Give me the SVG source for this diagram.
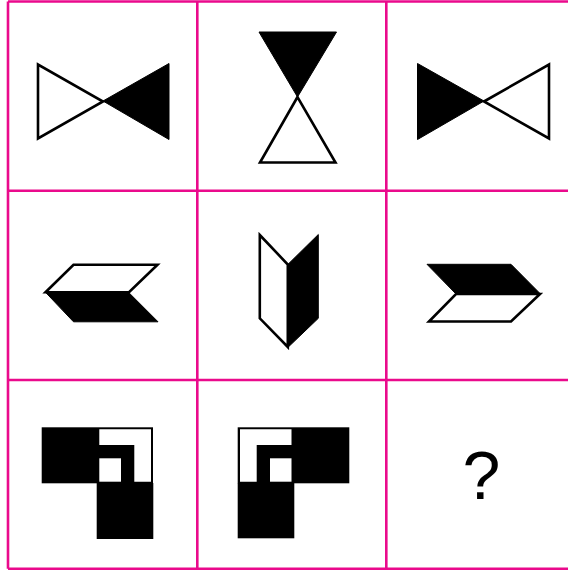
<svg xmlns="http://www.w3.org/2000/svg" width="568" height="572" viewBox="0 0 568 572">
<style>
.grid{stroke:#ea0a8c;stroke-width:2.6;fill:none}
.o{fill:#fff;stroke:#000;stroke-width:2.6;stroke-linejoin:miter}
.f{fill:#000;stroke:#000;stroke-width:1}
.b{fill:#000}
.w{fill:#fff}
.q{font-family:"Liberation Sans",Arial,sans-serif;font-size:68px;fill:#000}
</style>
<rect width="568" height="572" fill="#fff"/>
<g id="grid" class="grid">
<line x1="8" y1="1.5" x2="568" y2="1.5"/>
<line x1="8" y1="190.8" x2="568" y2="190.8"/>
<line x1="8" y1="380" x2="568" y2="380"/>
<line x1="8" y1="568.8" x2="568" y2="568.8"/>
<line x1="8" y1="1.5" x2="8" y2="568.8"/>
<line x1="197.3" y1="1.5" x2="197.3" y2="568.8"/>
<line x1="386.3" y1="1.5" x2="386.3" y2="568.8"/>
</g>
<g id="cell1">
<polygon class="o" points="38,64.5 38,138.5 103,101.5"/>
<polygon class="f" points="103,101 169,63.5 169,139.5"/>
</g>
<g id="cell2">
<polygon class="f" points="259,32 336.5,32 297.5,97"/>
<polygon class="o" points="297.5,97 260,162.5 335.5,162.5"/>
</g>
<g id="cell3">
<polygon class="f" points="417.5,63.5 417.5,139.5 484,101"/>
<polygon class="o" points="484,101.5 549,64.5 549,138.5"/>
</g>
<g id="cell4">
<polygon class="o" points="45.5,292.3 73.5,264.8 157.5,264.8 129,292.3"/>
<polygon class="f" points="45.5,292.3 128.5,292.3 158,321.8 73.5,321.8"/>
</g>
<g id="cell5">
<polygon class="o" points="259.8,235 287.8,264.5 287.8,347 259.8,318.3"/>
<polygon class="f" points="287.8,264.5 318.3,234.5 318.3,318.3 287.8,347.5"/>
</g>
<g id="cell6">
<polygon class="f" points="427,264.3 511,264.3 540.5,294 456,294"/>
<polygon class="o" points="456,294 540,294 511,321.5 429,321.5"/>
</g>
<g id="cell7">
<rect class="b" x="41.7" y="427.3" width="111.3" height="56"/>
<rect class="b" x="96.7" y="483" width="56.6" height="56"/>
<polygon class="w" points="99.3,429.3 151,429.3 151,481.7 134.3,481.7 134.3,445 99.3,445"/>
<rect class="w" x="99.3" y="458.3" width="21.7" height="23.4"/>
</g>
<g id="cell8">
<rect class="b" x="237.7" y="427.3" width="111.6" height="56"/>
<rect class="b" x="237.7" y="483" width="56.6" height="55.3"/>
<polygon class="w" points="240,429.3 291.5,429.3 291.5,445 256.7,445 256.7,481.7 240,481.7"/>
<rect class="w" x="270" y="458.3" width="21.5" height="23.4"/>
</g>
<g id="cell9">
<text class="q" x="481.5" y="498.5" text-anchor="middle">?</text>
</g>
</svg>
